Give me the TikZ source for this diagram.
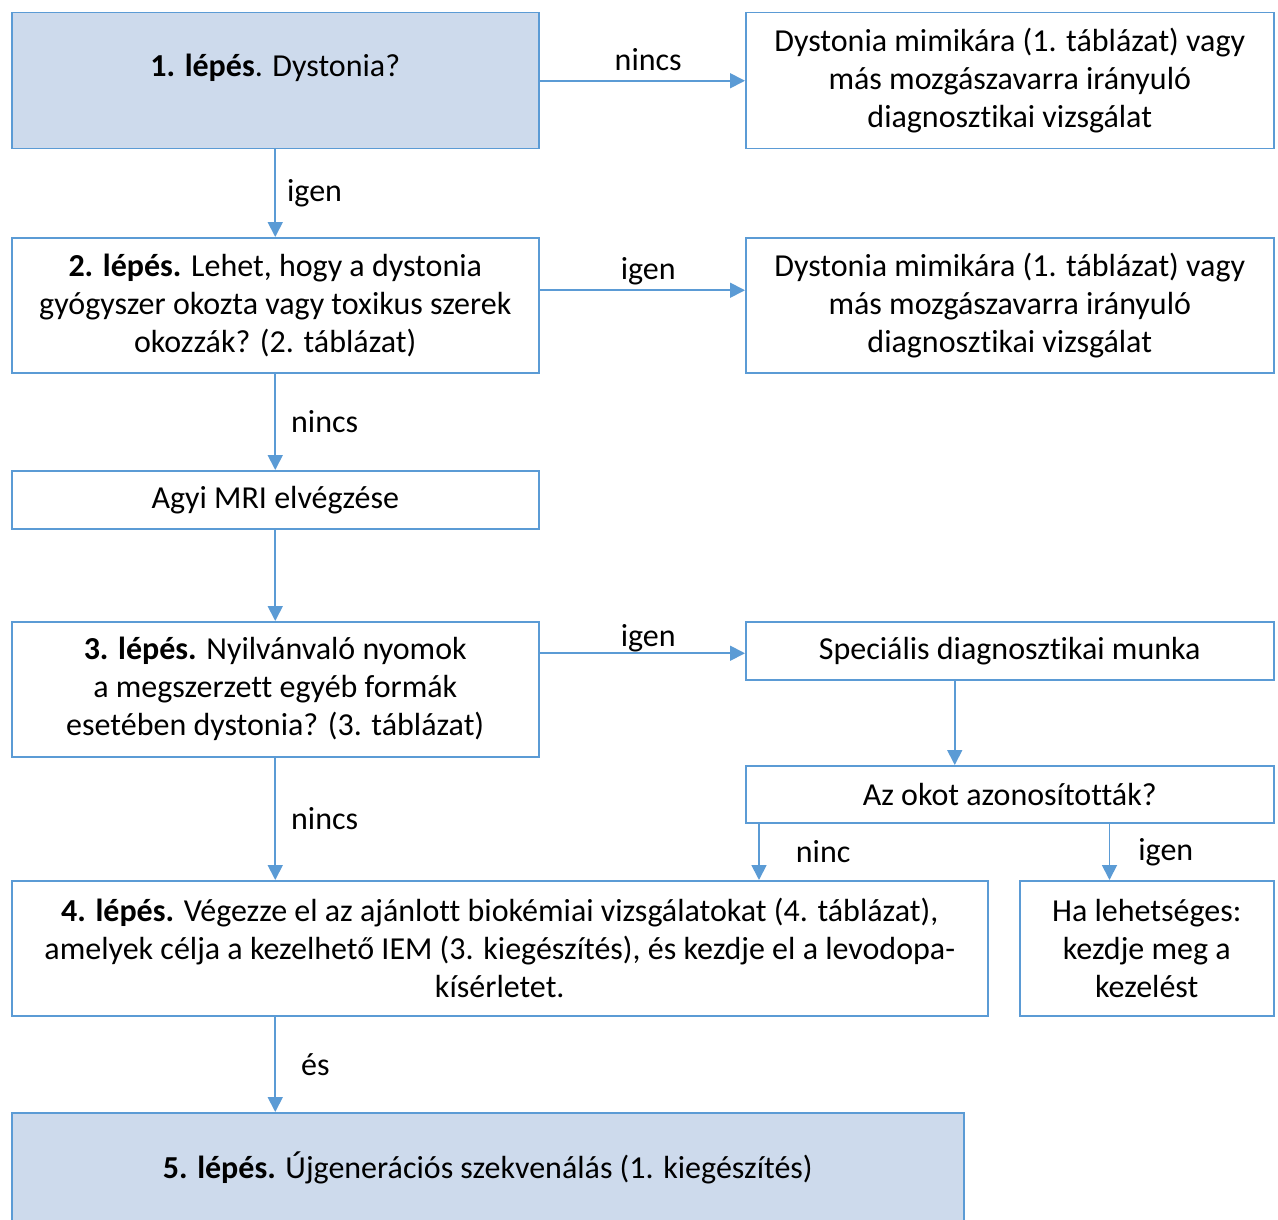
\documentclass[tikz,border=0pt]{standalone}
\usepackage{fontspec}
\setmainfont{Carlito}[Ligatures=NoCommon]
\usetikzlibrary{arrows.meta,calc}
\definecolor{bc}{RGB}{91,155,213}
\definecolor{fc}{RGB}{205,218,236}
\tikzset{
  box/.style={draw=bc, line width=1.5pt, align=center, inner sep=0pt, anchor=north west,
    font=\fontsize{32}{38}\selectfont},
  bluebox/.style={box, fill=fc},
  arr/.style={draw=bc, line width=1.8pt, -{Triangle[length=15pt,width=15pt]}},
  lbl/.style={font=\fontsize{32}{38}\selectfont, inner sep=0pt},
  hlbl/.style={lbl, anchor=south, xshift=6pt}
}
\begin{document}
\begin{tikzpicture}[x=1pt,y=-1pt]
\path[use as bounding box, clip] (0,0) rectangle (1278,1220);
\fill[white] (0,0) rectangle (1278,1220);
\node[bluebox, minimum width=527, minimum height=136] (b1) at (11,12)
  {\raisebox{11pt}[0.7em][0.25em]{\textbf{1. lépés}. Dystonia?}};
\node[box, minimum width=528, minimum height=136] (r1) at (745,12)
  {Dystonia mimikára (1. táblázat) vagy\\ más mozgászavarra irányuló\\ diagnosztikai vizsgálat};
\node[box, minimum width=527, minimum height=135] (b2) at (11,237)
  {\textbf{2. lépés.} Lehet, hogy a dystonia\\ gyógyszer okozta vagy toxikus szerek\\ okozzák? (2. táblázat)};
\node[box, minimum width=528, minimum height=135] (r2) at (745,237)
  {Dystonia mimikára (1. táblázat) vagy\\ más mozgászavarra irányuló\\ diagnosztikai vizsgálat};
\node[box, minimum width=527, minimum height=58] (mri) at (11,470)
  {Agyi MRI elvégzése};
\node[box, minimum width=527, minimum height=135] (b3) at (11,621)
  {\textbf{3. lépés.} Nyilvánvaló nyomok\\ a megszerzett egyéb formák\\ esetében dystonia? (3. táblázat)};
\node[box, minimum width=528, minimum height=58] (spec) at (745,621)
  {Speciális diagnosztikai munka};
\node[box, minimum width=528, minimum height=57] (okot) at (745,765)
  {Az okot azonosították?};
\node[box, minimum width=976, minimum height=135] (b4) at (11,880)
  {\textbf{4. lépés.} Végezze el az ajánlott biokémiai vizsgálatokat (4. táblázat),\\ amelyek célja a kezelhető IEM (3. kiegészítés), és kezdje el a levodopa-\\ kísérletet.};
\node[box, minimum width=254, minimum height=135] (ha) at (1019,880)
  {Ha lehetséges:\\ kezdje meg a\\ kezelést};
\node[bluebox, minimum width=952, minimum height=110] (b5) at (11,1112)
  {\textbf{5. lépés.} Újgenerációs szekvenálás (1. kiegészítés)};

\draw[arr] (b1.east) -- node[hlbl, yshift=9pt] {nincs} (b1.east -| r1.west);
\draw[arr] (b1.south) -- node[lbl, right=11pt] {igen} (b2.north);
\draw[arr] ([yshift=15pt]b2.east) -- node[hlbl, yshift=4pt] {igen} ([yshift=15pt]b2.east -| r2.west);
\draw[arr] (b2.south) -- node[lbl, right=15pt] {nincs} (mri.north);
\draw[arr] (mri.south) -- (b3.north);
\draw[arr] ([yshift=36pt]b3.east) -- node[hlbl, yshift=0pt] {igen} ([yshift=36pt]b3.east -| spec.west);
\draw[arr] ([xshift=-55pt]spec.south) -- ([xshift=-55pt]spec.south |- okot.north);
\draw[arr] (b3.south) -- node[lbl, right=15pt] {nincs} (b3.south |- b4.north);
\draw[arr] ([xshift=14pt]okot.south west) -- node[lbl, right=36pt] {ninc} ([xshift=14pt]okot.south west |- b4.north);
\draw[arr] ([xshift=-165pt]okot.south east) -- node[lbl, right=28pt] {igen} ([xshift=-165pt]okot.south east |- ha.north);
\draw[arr] (b3.south |- b4.south) -- node[lbl, right=25pt] {és} (b3.south |- b5.north);
\end{tikzpicture}
\end{document}
